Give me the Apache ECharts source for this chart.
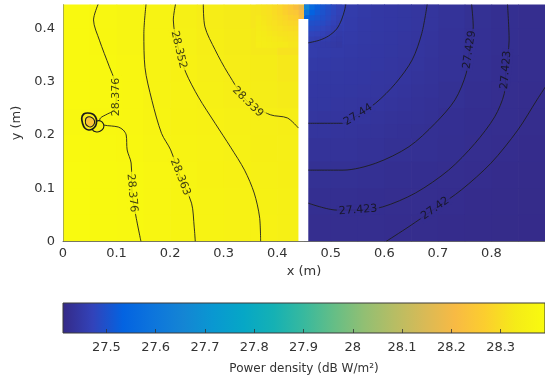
<!DOCTYPE html>
<html>
<head>
<meta charset="utf-8">
<script src="https://cdn.jsdelivr.net/npm/echarts@6/dist/echarts.min.js"></script>
<style>
html, body { margin: 0; padding: 0; background: #fff; }
#main { width: 545px; height: 385px; }
</style>
</head>
<body>
<div id="main"></div>
<script>
// ---- tick labels ----
const xTicks = [0, 0.1, 0.2, 0.3, 0.4, 0.5, 0.6, 0.7, 0.8];
const yTicks = [0, 0.1, 0.2, 0.3, 0.4];
const cbTicks = [27.5, 27.6, 27.7, 27.8, 27.9, 28, 28.1, 28.2, 28.3];

// colour scale range (dB W/m^2)
const cbMin = 27.412;
const cbMax = 28.39;

// parula colormap
const parula = ['#352A87', '#3243BA', '#0363E1', '#0D75DC', '#1485D4', '#0998D1', '#06A7C6',
  '#15B1B4', '#38B99E', '#65BE86', '#92BF73', '#B7BD64', '#D9BA56', '#F8BA44', '#FCCE2E',
  '#F5EB18', '#F9FB0E'];

// ---- power density field, coarse cells (rows from top to bottom) ----
const fieldX = [0.025, 0.075, 0.125, 0.175, 0.225, 0.275, 0.325, 0.375, 0.425,
  0.475, 0.525, 0.575, 0.625, 0.675, 0.725, 0.775, 0.825, 0.875];
const fieldY = [0.425, 0.375, 0.325, 0.275, 0.225, 0.175, 0.125, 0.075, 0.025];
const fieldZ = [
  [28.383, 28.374, 28.367, 28.358, 28.348, 28.337, 28.330, 28.318, 28.290, 27.513, 27.458, 27.449, 27.444, 27.440, 27.433, 27.428, 27.424, 27.4215],
  [28.383, 28.375, 28.367, 28.359, 28.350, 28.339, 28.333, 28.325, 28.310, 27.458, 27.451, 27.447, 27.443, 27.439, 27.432, 27.427, 27.4235, 27.421],
  [28.384, 28.378, 28.369, 28.360, 28.353, 28.344, 28.337, 28.332, 28.322, 27.449, 27.447, 27.444, 27.441, 27.436, 27.431, 27.426, 27.423, 27.421],
  [28.384, 28.379, 28.371, 28.361, 28.356, 28.349, 28.341, 28.335, 28.330, 27.444, 27.443, 27.441, 27.438, 27.433, 27.428, 27.424, 27.422, 27.420],
  [28.380, 28.376, 28.372, 28.363, 28.357, 28.353, 28.348, 28.343, 28.339, 27.440, 27.439, 27.436, 27.433, 27.429, 27.425, 27.423, 27.421, 27.419],
  [28.384, 28.380, 28.375, 28.366, 28.360, 28.355, 28.350, 28.346, 28.343, 27.434, 27.433, 27.431, 27.428, 27.426, 27.4235, 27.422, 27.420, 27.418],
  [28.385, 28.381, 28.377, 28.369, 28.362, 28.357, 28.353, 28.349, 28.346, 27.428, 27.428, 27.426, 27.424, 27.423, 27.422, 27.420, 27.418, 27.417],
  [28.385, 28.382, 28.377, 28.370, 28.364, 28.359, 28.355, 28.351, 28.348, 27.424, 27.424, 27.423, 27.422, 27.421, 27.420, 27.418, 27.417, 27.416],
  [28.386, 28.382, 28.378, 28.371, 28.364, 28.360, 28.356, 28.352, 28.349, 27.422, 27.421, 27.421, 27.420, 27.419, 27.418, 27.417, 27.416, 27.415]
];

// medium cells over the upper part of the right-hand region
const midX = [0.4625, 0.4875, 0.5125, 0.5375, 0.5625, 0.5875, 0.6125, 0.6375, 0.6625, 0.6875];
const midY = [0.4325, 0.4075, 0.3825, 0.3575, 0.3325, 0.3075, 0.2825, 0.2575, 0.2325, 0.2075];
const midZ = [
  [27.543, 27.500, 27.472, 27.455, 27.450, 27.447, 27.445, 27.443, 27.441, 27.438],
  [27.495, 27.481, 27.461, 27.454, 27.449, 27.447, 27.445, 27.443, 27.441, 27.438],
  [27.468, 27.459, 27.455, 27.451, 27.448, 27.446, 27.444, 27.442, 27.440, 27.437],
  [27.455, 27.453, 27.451, 27.449, 27.447, 27.445, 27.443, 27.441, 27.439, 27.436],
  [27.450, 27.449, 27.448, 27.447, 27.445, 27.444, 27.442, 27.440, 27.438, 27.435],
  [27.447, 27.446, 27.446, 27.445, 27.444, 27.442, 27.441, 27.439, 27.436, 27.434],
  [27.445, 27.444, 27.444, 27.443, 27.442, 27.441, 27.439, 27.437, 27.434, 27.432],
  [27.443, 27.443, 27.442, 27.441, 27.440, 27.439, 27.437, 27.435, 27.432, 27.430],
  [27.441, 27.440, 27.440, 27.439, 27.438, 27.436, 27.434, 27.432, 27.431, 27.429],
  [27.438, 27.438, 27.437, 27.436, 27.435, 27.433, 27.431, 27.430, 27.428, 27.426]
];

// fine cells around the top of the slot, where the field changes fast
const patchX = [0.365, 0.375, 0.385, 0.395, 0.405, 0.415, 0.425, 0.435,
  0.445, 0.455, 0.465, 0.475, 0.485, 0.495, 0.505, 0.515];
const patchY = [0.44, 0.43, 0.42, 0.41, 0.40, 0.39, 0.38, 0.37];
const patchZ = [
  [28.318, 28.311, 28.305, 28.295, 28.284, 28.266, 28.245, 28.220, 28.180, 27.660, 27.560, 27.527, 27.507, 27.494, 27.482, 27.470],
  [28.319, 28.312, 28.307, 28.297, 28.287, 28.273, 28.257, 28.245, 28.200, 27.600, 27.533, 27.515, 27.501, 27.491, 27.479, 27.469],
  [28.324, 28.317, 28.310, 28.302, 28.293, 28.284, 28.273, 28.266, 28.220, 27.540, 27.511, 27.503, 27.495, 27.486, 27.475, 27.465],
  [28.327, 28.320, 28.311, 28.307, 28.300, 28.293, 28.287, 28.284, 28.240, 27.510, 27.497, 27.493, 27.487, 27.478, 27.469, 27.460],
  [28.329, 28.324, 28.318, 28.313, 28.307, 28.302, 28.297, 28.295, 28.260, 27.490, 27.487, 27.483, 27.476, 27.470, 27.462, 27.455],
  [28.331, 28.328, 28.323, 28.318, 28.311, 28.310, 28.307, 28.305, 28.270, 27.480, 27.475, 27.472, 27.468, 27.461, 27.456, 27.452],
  [28.335, 28.331, 28.328, 28.324, 28.320, 28.317, 28.312, 28.311, 28.280, 27.470, 27.465, 27.462, 27.458, 27.455, 27.452, 27.449],
  [28.337, 28.335, 28.331, 28.329, 28.327, 28.324, 28.319, 28.318, 28.280, 27.460, 27.455, 27.454, 27.452, 27.450, 27.448, 27.446]
];

// slot with no data (x range and top of the slot, in m)
const gapX = [0.4396, 0.458];
const gapTop = 0.418;

// small local minimum near the left edge: closed contour loops
const blobLobe = [[0.0553, 0.2225], [0.0627, 0.2263], [0.0700, 0.2263], [0.0756, 0.2207], [0.0756, 0.2131], [0.0700, 0.2075], [0.0627, 0.2056], [0.0553, 0.2094]];
const blobOuter = [[0.0350, 0.2319], [0.0387, 0.2394], [0.0461, 0.2413], [0.0553, 0.2394], [0.0608, 0.2338], [0.0627, 0.2263], [0.0608, 0.2169], [0.0553, 0.2113], [0.0479, 0.2094], [0.0406, 0.2131], [0.0369, 0.2207]];
const blobInner = [[0.0424, 0.2300], [0.0461, 0.2338], [0.0516, 0.2338], [0.0571, 0.2300], [0.0590, 0.2244], [0.0571, 0.2188], [0.0516, 0.2150], [0.0461, 0.2169], [0.0424, 0.2207]];
const blobLoops = [blobLobe, blobOuter, blobInner];
const blobLevels = [28.36, 28.33, 28.24];

// ---- contour lines ----
const contourLevels = [28.376, 28.363, 28.352, 28.339, 27.452, 27.44, 27.429, 27.423, 27.42];
const c28376 = [[0.0654, 0.445], [0.057, 0.416], [0.068, 0.378], [0.0866, 0.328], [0.0959, 0.3033], [0.0995, 0.2714], [0.0959, 0.247], [0.0829, 0.2394], [0.0700, 0.2319], [0.0682, 0.2244], [0.0756, 0.2188], [0.0903, 0.2169], [0.1032, 0.2150], [0.1124, 0.2094], [0.1180, 0.2000], [0.1198, 0.1718], [0.1272, 0.1474], [0.1290, 0.0911], [0.1364, 0.0460], [0.1456, 0]];
const c28363 = [[0.155, 0.445], [0.151, 0.391], [0.153, 0.327], [0.166, 0.265], [0.184, 0.203], [0.201, 0.172], [0.219, 0.121], [0.240, 0.072], [0.245, 0.027], [0.247, 0]];
const c28352 = [[0.210, 0.445], [0.206, 0.416], [0.216, 0.360], [0.229, 0.318], [0.253, 0.271], [0.284, 0.222], [0.313, 0.177], [0.339, 0.134], [0.357, 0.091], [0.367, 0.046], [0.369, 0]];
const c28339 = [[0.262, 0.445], [0.265, 0.403], [0.284, 0.360], [0.308, 0.316], [0.345, 0.262], [0.387, 0.238], [0.419, 0.232], [0.4396, 0.213]];
const c27452 = [[0.458, 0.373], [0.479, 0.378], [0.496, 0.386], [0.511, 0.399], [0.520, 0.416], [0.526, 0.435], [0.528, 0.445]];
const c27440 = [[0.458, 0.222], [0.523, 0.222], [0.551, 0.238], [0.584, 0.260], [0.621, 0.297], [0.652, 0.341], [0.670, 0.391], [0.680, 0.445]];
const c27429 = [[0.458, 0.134], [0.523, 0.134], [0.584, 0.147], [0.646, 0.178], [0.695, 0.222], [0.732, 0.266], [0.753, 0.316], [0.759, 0.360], [0.766, 0.403], [0.763, 0.445]];
const c27423 = [[0.458, 0.072], [0.511, 0.059], [0.551, 0.059], [0.597, 0.065], [0.658, 0.091], [0.720, 0.134], [0.769, 0.184], [0.806, 0.234], [0.824, 0.278], [0.827, 0.322], [0.833, 0.378], [0.830, 0.445]];
const c27420 = [[0.603, 0], [0.646, 0.028], [0.695, 0.062], [0.744, 0.097], [0.799, 0.147], [0.849, 0.209], [0.885, 0.266], [0.905, 0.297]];
const contours = [c28376, c28363, c28352, c28339, c27452, c27440, c27429, c27423, c27420];

// contour labels: which line, and at which vertex of it
const contourLabels = [
  { line: 0, at: 5 }, { line: 0, at: 17 }, { line: 1, at: 6 }, { line: 2, at: 2 }, { line: 3, at: 4 },
  { line: 5, at: 2 }, { line: 6, at: 7 }, { line: 7, at: 2 }, { line: 7, at: 9 }, { line: 8, at: 2 }
];

// ---------------------------------------------------------------
const FONT = 'DejaVu Sans';
const TXT = '#333';

function gridCells(xs, ys, zs) {
  const out = [];
  zs.forEach((row, r) => row.forEach((v, c) => out.push([xs[c], ys[r], v])));
  return out;
}

function cellRenderer(xs, ys) {
  const hx = Math.abs(xs[1] - xs[0]) / 2;
  const hy = Math.abs(ys[1] - ys[0]) / 2;
  return function (params, api) {
    const x = api.value(0), y = api.value(1);
    const a = api.coord([x - hx, y + hy]);
    const b = api.coord([x + hx, y - hy]);
    return {
      type: 'rect',
      shape: { x: a[0], y: a[1], width: b[0] - a[0] + 0.7, height: b[1] - a[1] + 0.7 },
      style: { fill: api.visual('color') }
    };
  };
}

function cellSeries(xs, ys, zs, z) {
  return {
    type: 'custom', coordinateSystem: 'cartesian2d', xAxisIndex: 0, yAxisIndex: 0,
    z: z, silent: true, clip: true,
    data: gridCells(xs, ys, zs),
    renderItem: cellRenderer(xs, ys)
  };
}

function levelColor(v) {
  const t = Math.min(1, Math.max(0, (v - cbMin) / (cbMax - cbMin)));
  return echarts.color.lerp(t, parula);
}

const chart = echarts.init(document.getElementById('main'), null, { renderer: 'canvas' });

const series = [];
series.push(cellSeries(fieldX, fieldY, fieldZ, 1));
series.push(cellSeries(midX, midY, midZ, 1.5));
series.push(cellSeries(patchX, patchY, patchZ, 2));
series.push({
  type: 'custom', coordinateSystem: 'cartesian2d', xAxisIndex: 0, yAxisIndex: 0,
  z: 5, silent: true, clip: true,
  data: blobLevels.map((v, i) => [i, 0, v]),
  renderItem: function (params, api) {
    const idx = api.value(0);
    const pts = blobLoops[idx].map(p => api.coord(p));
    return {
      type: 'polygon',
      shape: { points: pts, smooth: 0.4 },
      style: { fill: api.visual('color'), stroke: '#1a1a1a', lineWidth: idx === 1 ? 1.7 : 1.1 }
    };
  }
});
series.push({
  type: 'custom', coordinateSystem: 'cartesian2d', xAxisIndex: 0, yAxisIndex: 0,
  z: 3, silent: true,
  data: [[gapX[0], gapX[1], gapTop]],
  renderItem: function (params, api) {
    const a = api.coord([api.value(0), api.value(2)]);
    const b = api.coord([api.value(1), 0]);
    return { type: 'rect', shape: { x: a[0], y: a[1], width: b[0] - a[0], height: b[1] - a[1] }, style: { fill: '#ffffff' } };
  }
});
contours.forEach(pts => {
  series.push({
    type: 'line', xAxisIndex: 0, yAxisIndex: 0, z: 4, silent: true,
    data: pts, showSymbol: false, smooth: 0.3, clip: true,
    lineStyle: { color: '#1e1e1e', width: 0.9 }
  });
});
function labelData(rotations) {
  return contourLabels.map((l, i) => {
    const lev = contourLevels[l.line];
    return {
      value: contours[l.line][l.at],
      label: {
        show: true, position: 'inside', formatter: String(lev),
        rotate: rotations ? rotations[i] : 0,
        backgroundColor: levelColor(lev), padding: [0, 2]
      }
    };
  });
}
series.push({
  id: 'contourLabels', type: 'scatter', xAxisIndex: 0, yAxisIndex: 0, z: 6, silent: true,
  symbolSize: 0,
  label: { fontSize: 11, color: '#111', fontFamily: FONT },
  data: labelData(null)
});
// colour bar
series.push({
  type: 'custom', coordinateSystem: 'cartesian2d', xAxisIndex: 1, yAxisIndex: 1,
  z: 2, silent: true,
  data: [[cbMin, cbMax]],
  renderItem: function (params, api) {
    const a = api.coord([api.value(0), 1]);
    const b = api.coord([api.value(1), 0]);
    return {
      type: 'rect',
      shape: { x: a[0], y: a[1], width: b[0] - a[0], height: b[1] - a[1] },
      style: {
        fill: new echarts.graphic.LinearGradient(0, 0, 1, 0,
          parula.map((c, i) => ({ offset: i / (parula.length - 1), color: c }))),
        stroke: '#3c3c3c', lineWidth: 0.6
      }
    };
  }
});

const fmt = v => String(+(+v).toFixed(2));

const option = {
  animation: false,
  backgroundColor: '#ffffff',
  textStyle: { fontFamily: FONT },
  grid: [
    { left: 63, top: 4.5, width: 488.25, height: 237 },
    { left: 63, top: 303, width: 489, height: 30 }
  ],
  xAxis: [
    {
      type: 'value', gridIndex: 0, min: 0, max: 0.9, z: 10,
      splitLine: { show: false },
      axisLine: { show: true, lineStyle: { color: '#555', width: 0.8 } },
      axisTick: { show: false },
      axisLabel: { customValues: xTicks, formatter: fmt, fontSize: 13, color: TXT, margin: 6, fontFamily: FONT },
      name: 'x (m)', nameLocation: 'middle', nameGap: 24,
      nameTextStyle: { fontSize: 13, color: TXT, fontFamily: FONT }
    },
    {
      type: 'value', gridIndex: 1, min: cbMin, max: cbMax, z: 10,
      splitLine: { show: false },
      axisLine: { show: false },
      axisTick: { show: true, inside: true, length: 4, customValues: cbTicks, lineStyle: { color: '#333', width: 0.8 } },
      axisLabel: { customValues: cbTicks, formatter: fmt, fontSize: 13, color: TXT, margin: 8, fontFamily: FONT },
      name: 'Power density (dB W/m²)', nameLocation: 'middle', nameGap: 30,
      nameTextStyle: { fontSize: 12, color: TXT, fontFamily: FONT }
    }
  ],
  yAxis: [
    {
      type: 'value', gridIndex: 0, min: 0, max: 0.445, z: 10,
      splitLine: { show: false },
      axisLine: { show: true, lineStyle: { color: '#777', width: 0.6 } },
      axisTick: { show: false },
      axisLabel: { customValues: yTicks, formatter: fmt, fontSize: 13, color: TXT, margin: 8, fontFamily: FONT },
      name: 'y (m)', nameLocation: 'middle', nameGap: 36,
      nameTextStyle: { fontSize: 13, color: TXT, fontFamily: FONT }
    },
    { type: 'value', gridIndex: 1, min: 0, max: 1, show: false }
  ],
  visualMap: {
    type: 'continuous', show: false, min: cbMin, max: cbMax, dimension: 2,
    seriesIndex: [0, 1, 2, 3],
    inRange: { color: parula }
  },
  series: series
};

chart.setOption(option);

// orient each label along its contour line (kept upright)
const rotations = contourLabels.map(l => {
  const pts = contours[l.line];
  const p = chart.convertToPixel({ gridIndex: 0 }, pts[l.at - 1]);
  const q = chart.convertToPixel({ gridIndex: 0 }, pts[l.at + 1]);
  let ang = Math.atan2(-(q[1] - p[1]), q[0] - p[0]) * 180 / Math.PI;
  if (ang > 90) ang -= 180;
  if (ang <= -90) ang += 180;
  return ang;
});
chart.setOption({ series: [{ id: 'contourLabels', data: labelData(rotations) }] });
</script>
</body>
</html>
